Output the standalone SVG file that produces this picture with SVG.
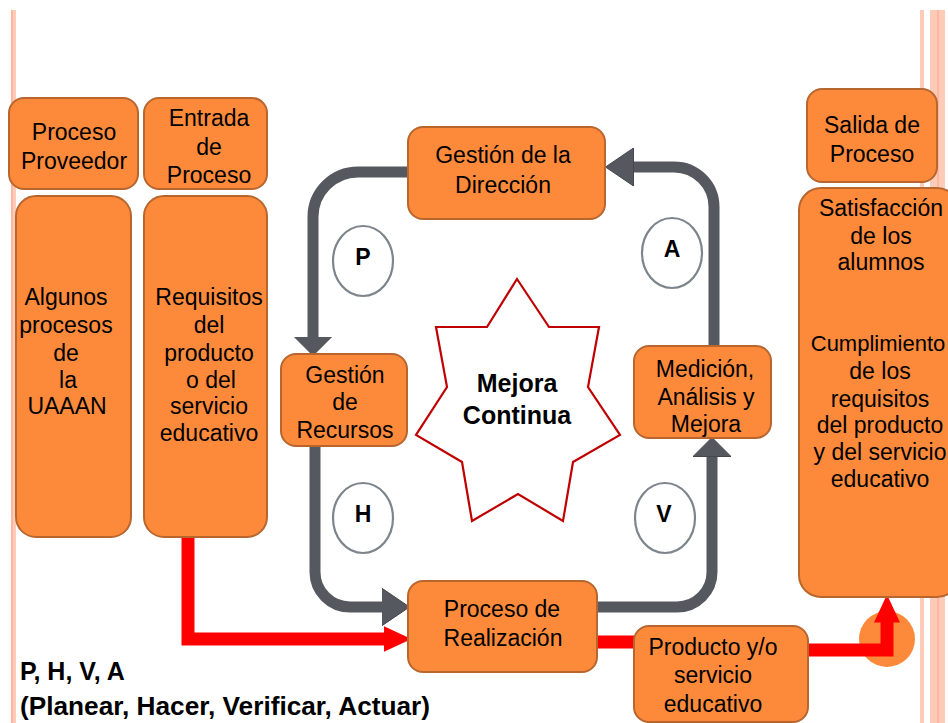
<svg xmlns="http://www.w3.org/2000/svg" width="948" height="723" viewBox="0 0 948 723">
<defs>
<style>
.box{fill:#fd8a3b;stroke:#b8662e;stroke-width:2}
.t{font-family:"Liberation Sans",Arial,sans-serif;font-size:23px;fill:#000;text-anchor:middle}
.b{font-weight:bold}
.circ{fill:#fff;stroke:#7d848c;stroke-width:2.2}
.grey{fill:none;stroke:#55595f;stroke-width:11}
.red{fill:none;stroke:#ff0000;stroke-width:13;stroke-linejoin:miter}
.strip{fill:#fdcbb8}
.strip2{fill:#fbb89f}
</style>
<marker id="gs" markerUnits="userSpaceOnUse" markerWidth="19" markerHeight="38" viewBox="0 0 19 38" refX="0.5" refY="19" orient="auto"><path d="M0,0 L19,19 L0,38 Z" fill="#55595f" stroke="#43464b" stroke-width="1"/></marker>
<marker id="gl" markerUnits="userSpaceOnUse" markerWidth="28" markerHeight="38" viewBox="0 0 28 38" refX="0.5" refY="19" orient="auto"><path d="M0,0 L28,19 L0,38 Z" fill="#55595f" stroke="#43464b" stroke-width="1"/></marker>
<marker id="rh" markerUnits="userSpaceOnUse" markerWidth="28" markerHeight="26" viewBox="0 0 28 26" refX="0.5" refY="13" orient="auto"><path d="M0,0 L28,13 L0,26 Z" fill="#ff0000"/></marker>
</defs>
<rect width="948" height="723" fill="#ffffff"/>
<g id="decor">
<rect class="strip2" x="11" y="10" width="2" height="713"/>
<rect class="strip" x="13" y="10" width="3" height="713"/>
<rect class="strip" x="920" y="10" width="4" height="713"/>
<rect class="strip" x="930" y="10" width="15" height="713"/>
<rect class="strip2" x="937" y="10" width="2" height="713"/>
</g>
<g id="connectors">
<circle cx="887" cy="639" r="28" fill="#fd8a3b"/>
<path class="grey" d="M408,172 H358 A45,45 0 0 0 313,217 V337" marker-end="url(#gs)"/>
<path class="grey" d="M714,346 V207 A40,40 0 0 0 674,167 H633" marker-end="url(#gl)"/>
<path class="grey" d="M315,446 V572 A35,35 0 0 0 350,607 H382" marker-end="url(#gl)"/>
<path class="grey" d="M597,607 H677 A35,35 0 0 0 712,572 V456" marker-end="url(#gs)"/>
<path class="red" d="M188,537 V639 H384" marker-end="url(#rh)"/>
<path class="red" d="M597,642 H634"/>
<path class="red" d="M808,650 H887 V622" marker-end="url(#rh)"/>
</g>
<g id="proveedor">
<rect class="box" x="9" y="98" width="129" height="91" rx="15"/>
<text class="t" x="74" y="140">Proceso</text>
<text class="t" x="74" y="169">Proveedor</text>
</g>
<g id="entrada">
<rect class="box" x="144" y="98" width="123" height="91" rx="15"/>
<text class="t" x="209" y="126">Entrada</text>
<text class="t" x="209" y="155">de</text>
<text class="t" x="209" y="183">Proceso</text>
</g>
<g id="algunos">
<rect class="box" x="16" y="196" width="115" height="341" rx="20"/>
<text class="t" x="66" y="305">Algunos</text>
<text class="t" x="66" y="333">procesos</text>
<text class="t" x="66" y="361">de</text>
<text class="t" x="68" y="388">la</text>
<text class="t" x="67" y="414">UAAAN</text>
</g>
<g id="requisitos">
<rect class="box" x="144" y="196" width="123" height="341" rx="20"/>
<text class="t" x="209" y="305">Requisitos</text>
<text class="t" x="209" y="333">del</text>
<text class="t" x="209" y="361">producto</text>
<text class="t" x="211" y="388">o del</text>
<text class="t" x="209" y="414">servicio</text>
<text class="t" x="209" y="441">educativo</text>
</g>
<g id="direccion">
<rect class="box" x="408" y="127" width="197" height="92" rx="15"/>
<text class="t" x="503" y="163">Gestión de la</text>
<text class="t" x="503" y="193">Dirección</text>
</g>
<g id="recursos">
<rect class="box" x="281" y="354" width="126" height="92" rx="15"/>
<text class="t" x="345" y="383">Gestión</text>
<text class="t" x="345" y="410">de</text>
<text class="t" x="345" y="438">Recursos</text>
</g>
<g id="medicion">
<rect class="box" x="634" y="346" width="137" height="92" rx="15"/>
<text class="t" x="705" y="377">Medición,</text>
<text class="t" x="706" y="405">Análisis y</text>
<text class="t" x="706" y="432">Mejora</text>
</g>
<g id="realizacion">
<rect class="box" x="408" y="581" width="189" height="91" rx="15"/>
<text class="t" x="502" y="617">Proceso de</text>
<text class="t" x="503" y="646">Realización</text>
</g>
<g id="producto">
<rect class="box" x="634" y="626" width="174" height="96" rx="15"/>
<text class="t" x="713" y="655">Producto y/o</text>
<text class="t" x="713" y="683">servicio</text>
<text class="t" x="713" y="712">educativo</text>
</g>
<g id="salida">
<rect class="box" x="807" y="89" width="130" height="93" rx="15"/>
<text class="t" x="872" y="133">Salida  de</text>
<text class="t" x="872" y="162">Proceso</text>
</g>
<g id="satisfaccion">
<rect class="box" x="799" y="188" width="160" height="409" rx="22"/>
<text class="t" x="881" y="216">Satisfacción</text>
<text class="t" x="881" y="244">de los</text>
<text class="t" x="881" y="270">alumnos</text>
<text class="t" x="878" y="351" style="font-size:22px">Cumplimiento</text>
<text class="t" x="880" y="379">de los</text>
<text class="t" x="880" y="407">requisitos</text>
<text class="t" x="880" y="433">del producto</text>
<text class="t" x="880" y="460">y del servicio</text>
<text class="t" x="880" y="487">educativo</text>
</g>
<g id="mejora">
<polygon points="517,279 549,327 599,327 588,387 620,435 573,462 563,521 518,494 472,521 462,462 416,435 447,387 436,327 487,327" fill="#ffffff" stroke="#c00000" stroke-width="2.2"/>
<text class="t b" x="517" y="392" style="font-size:25px">Mejora</text>
<text class="t b" x="517" y="424" style="font-size:25px">Continua</text>
</g>
<g id="circleP">
<ellipse class="circ" cx="363" cy="261" rx="30" ry="35"/>
<text class="t b" x="363" y="265">P</text>
</g>
<g id="circleA">
<ellipse class="circ" cx="672" cy="253" rx="30" ry="35"/>
<text class="t b" x="672" y="257">A</text>
</g>
<g id="circleH">
<ellipse class="circ" cx="363" cy="518" rx="30" ry="35"/>
<text class="t b" x="363" y="522">H</text>
</g>
<g id="circleV">
<ellipse class="circ" cx="665" cy="518" rx="30" ry="35"/>
<text class="t b" x="664" y="522">V</text>
</g>
<g id="legend">
<text class="t b" x="20" y="680" style="text-anchor:start;font-size:25px">P, H, V, A</text>
<text class="t b" x="20" y="715" style="text-anchor:start;font-size:25px" textLength="410" lengthAdjust="spacingAndGlyphs">(Planear, Hacer, Verificar, Actuar)</text>
</g>
</svg>
